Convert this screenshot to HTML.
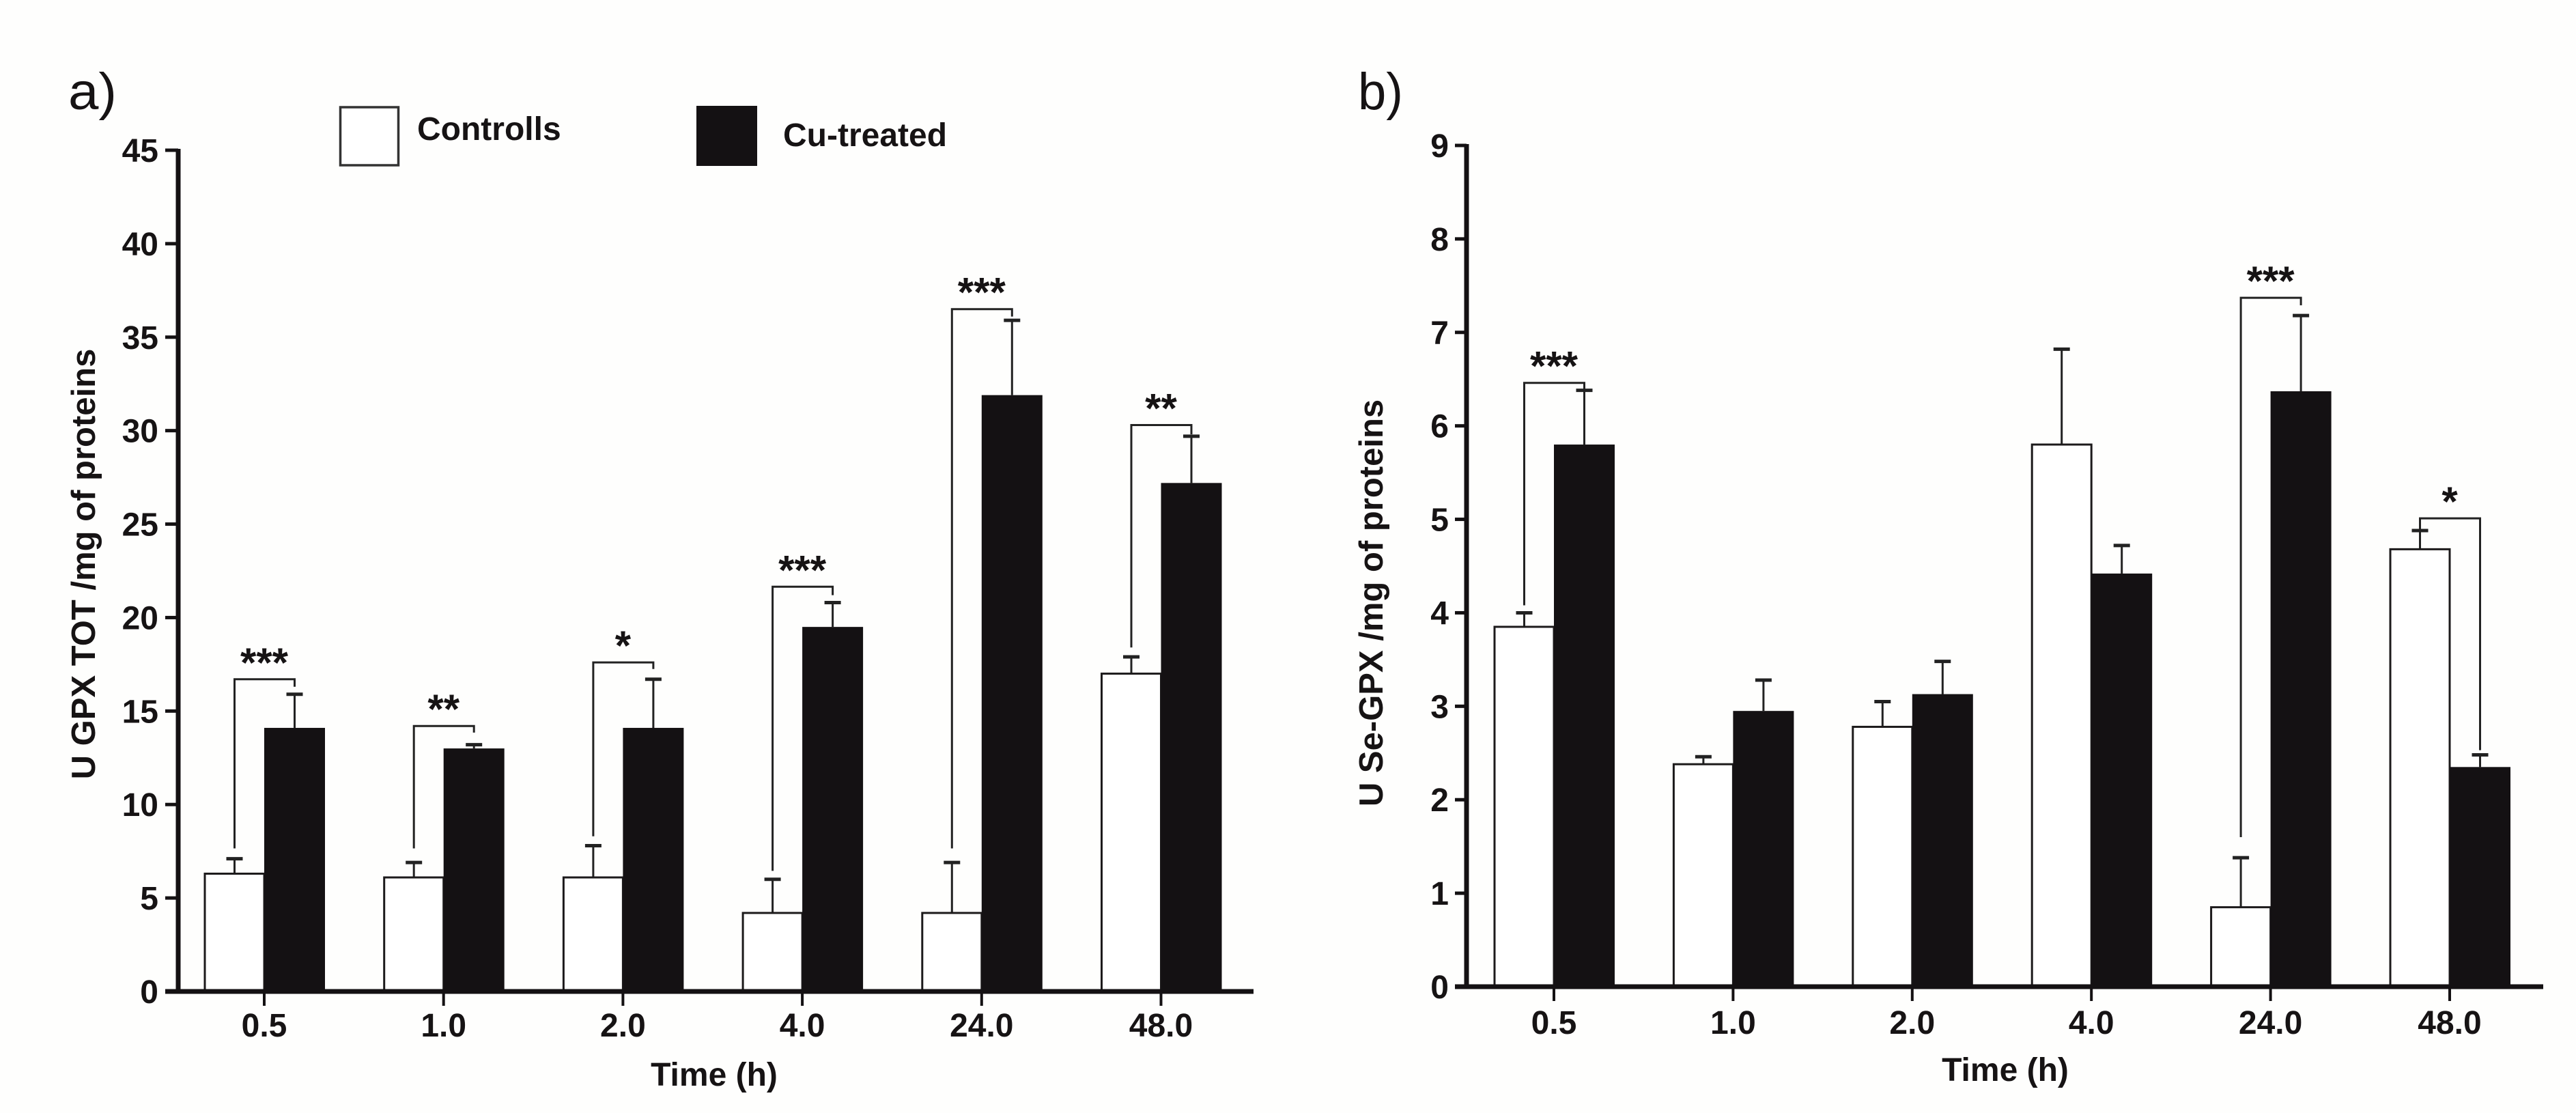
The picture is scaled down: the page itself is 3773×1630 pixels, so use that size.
<!DOCTYPE html>
<html lang="en">
<head>
<meta charset="utf-8">
<title>GPX activity charts</title>
<style>
html,body{margin:0;padding:0;background:#fefefd;}
svg{display:block;}
text{font-family:"Liberation Sans",sans-serif;fill:#161314;}
.b{font-weight:bold;font-size:48px;}
.panel{font-size:76px;font-weight:normal;}
</style>
</head>
<body>
<svg id="root" xmlns="http://www.w3.org/2000/svg" width="3773" height="1630" viewBox="0 0 3773 1630">
  <rect x="0" y="0" width="3773" height="1630" fill="#fefefd"/>
  <g>
    <rect x="498.5" y="157" width="85" height="85" fill="#fff" stroke="#333" stroke-width="3.5"/>
    <text class="b" x="611" y="205">Controlls</text>
    <rect x="1020" y="155" width="89" height="88" fill="#141113"/>
    <text class="b" x="1147" y="214">Cu-treated</text>
  </g>
</svg>
<script>
// shared categories
const categories = ["0.5", "1.0", "2.0", "4.0", "24.0", "48.0"];

// panel a data
const aTicks = [0, 5, 10, 15, 20, 25, 30, 35, 40, 45];
const aControl = [6.3, 6.1, 6.1, 4.2, 4.2, 17.0];
const aControlUpper = [7.1, 6.9, 7.8, 6.0, 6.9, 17.9];
const aTreated = [14.1, 13.0, 14.1, 19.5, 31.9, 27.2];
const aTreatedUpper = [15.9, 13.2, 16.7, 20.8, 35.9, 29.7];
const aStars = ["***", "**", "*", "***", "***", "**"];
const aBracketTop = [16.7, 14.2, 17.6, 21.65, 36.5, 30.3];
const aBracketLeftEnd = [7.65, 7.65, 8.3, 6.45, 7.65, 18.4];
const aBracketRightEnd = [16.3, 13.85, 17.25, 21.2, 36.1, 29.8];

// panel b data
const bTicks = [0, 1, 2, 3, 4, 5, 6, 7, 8, 9];
const bControl = [3.85, 2.38, 2.78, 5.8, 0.85, 4.68];
const bControlUpper = [4.0, 2.46, 3.05, 6.82, 1.38, 4.88];
const bTreated = [5.8, 2.95, 3.13, 4.42, 6.37, 2.35];
const bTreatedUpper = [6.38, 3.28, 3.48, 4.72, 7.18, 2.48];
const bStars = ["***", "", "", "", "***", "*"];
const bBracketTop = [6.46, null, null, null, 7.37, 5.01];
const bBracketLeftEnd = [4.08, null, null, null, 1.6, 4.86];
const bBracketRightEnd = [6.39, null, null, null, 7.29, 2.53];

const NS = "http://www.w3.org/2000/svg";
const root = document.getElementById("root");

function make(parent, tag, attrs, txt) {
  const el = document.createElementNS(NS, tag);
  for (const k in attrs) el.setAttribute(k, attrs[k]);
  if (txt !== undefined) el.textContent = txt;
  parent.appendChild(el);
  return el;
}

function drawPanel(p) {
  const g = make(root, "g", {});
  
  

  const yScale = v => p.y0 - (v / p.yMax) * (p.y0 - p.yTop);
  const xScale = i => p.x0 + i * p.step;
  const barW = p.barW;
  const INK = "#141113";

  // panel label
  const lab = make(g, "text", {x: p.labelX, y: 160, class: "panel", "textLength": p.labelW, "lengthAdjust": "spacingAndGlyphs"}, p.id + ")");
  
  

  categories.forEach((cat, i) => {
    const cx = xScale(i);
    const ctlX = cx - barW / 2;
    const trtX = cx + barW / 2 + 1;

    // control error bar stem and cap
    const ce = make(g, "path", {
      d: `M${ctlX} ${yScale(p.control[i])}V${yScale(p.controlUpper[i])}`,
      fill: "none", stroke: "#222", "stroke-width": 3
    });
    
    
    const cc = make(g, "path", {
      d: `M${ctlX - 12} ${yScale(p.controlUpper[i])}H${ctlX + 12}`,
      fill: "none", stroke: "#222", "stroke-width": 5
    });
    
    

    // treated error bar stem and cap
    const te = make(g, "path", {
      d: `M${trtX} ${yScale(p.treated[i])}V${yScale(p.treatedUpper[i])}`,
      fill: "none", stroke: "#222", "stroke-width": 3
    });
    
    
    const tc = make(g, "path", {
      d: `M${trtX - 12} ${yScale(p.treatedUpper[i])}H${trtX + 12}`,
      fill: "none", stroke: "#222", "stroke-width": 5
    });
    
    

    // control bar
    const cb = make(g, "rect", {
      x: cx - barW, y: yScale(p.control[i]), width: barW, height: p.y0 - yScale(p.control[i]),
      fill: "#fff", stroke: "#1c1a1b", "stroke-width": 3
    });
    
    

    // treated bar
    const tb = make(g, "rect", {
      x: cx, y: yScale(p.treated[i]), width: barW + 2, height: p.y0 - yScale(p.treated[i]),
      fill: INK
    });
    
    

    // x tick
    const tk = make(g, "rect", {x: cx - 2, y: p.y0, width: 4, height: 21, fill: INK});
    
    

    // x tick label
    const tl = make(g, "text", {x: cx, y: p.xLabelY, class: "b", "text-anchor": "middle"}, cat);
    
    

    // significance bracket
    if (p.bracketTop[i] !== null) {
      const br = make(g, "path", {
        d: `M${ctlX} ${yScale(p.bracketLeftEnd[i])}V${yScale(p.bracketTop[i])}H${trtX}V${yScale(p.bracketRightEnd[i])}`,
        fill: "none", stroke: "#222", "stroke-width": 3
      });
      
      

      const st = make(g, "text", {
        x: cx, y: yScale(p.bracketTop[i]) - 4, "text-anchor": "middle",
        "font-weight": "bold", "font-size": 60
      }, p.stars[i]);
      
      
    }
  });

  // y axis line
  const ya = make(g, "rect", {x: p.axisX - 3.5, y: p.yTop - 2, width: 7, height: p.y0 - p.yTop + 4, fill: INK});
  
  

  // x axis line
  const xa = make(g, "rect", {x: p.xAxisStart, y: p.y0 - 3.5, width: p.xAxisEnd - p.xAxisStart, height: 7, fill: INK});
  
  

  p.ticks.forEach(t => {
    const y = yScale(t);
    const tk = make(g, "rect", {x: p.xAxisStart, y: y - 2.5, width: p.axisX - p.xAxisStart, height: 5, fill: INK});
    
    
    const tl = make(g, "text", {x: p.yLabelX, y: y + 17, class: "b", "text-anchor": "end"}, String(t));
    
    
  });

  // axis titles
  const xt = make(g, "text", {x: p.xTitleX, y: p.xTitleY, class: "b", "text-anchor": "middle"}, "Time (h)");
  
  

  const yt = make(g, "text", {
    x: 0, y: 0, class: "b", "text-anchor": "middle", "font-size": 49, style: "font-size:49px",
    transform: `translate(${p.yTitleX} ${p.yTitleY}) rotate(-90)`
  }, p.yTitle);
  
  
}

drawPanel({
  id: "a", yTitle: "U GPX TOT /mg of proteins",
  ticks: aTicks, yMax: 45, control: aControl, controlUpper: aControlUpper,
  treated: aTreated, treatedUpper: aTreatedUpper, stars: aStars,
  bracketTop: aBracketTop, bracketLeftEnd: aBracketLeftEnd, bracketRightEnd: aBracketRightEnd,
  y0: 1452, yTop: 220, x0: 387, step: 262.7, barW: 87,
  axisX: 261, xAxisStart: 242, xAxisEnd: 1836,
  labelX: 100, labelW: 71, xLabelY: 1518, yLabelX: 232,
  xTitleX: 1046, xTitleY: 1590, yTitleX: 139, yTitleY: 826
});

drawPanel({
  id: "b", yTitle: "U Se-GPX /mg of proteins",
  ticks: bTicks, yMax: 9, control: bControl, controlUpper: bControlUpper,
  treated: bTreated, treatedUpper: bTreatedUpper, stars: bStars,
  bracketTop: bBracketTop, bracketLeftEnd: bBracketLeftEnd, bracketRightEnd: bBracketRightEnd,
  y0: 1445, yTop: 213, x0: 2276, step: 262.4, barW: 87,
  axisX: 2148, xAxisStart: 2131, xAxisEnd: 3725,
  labelX: 1989, labelW: 66, xLabelY: 1514, yLabelX: 2122,
  xTitleX: 2937, xTitleY: 1583, yTitleX: 2025, yTitleY: 883
});
</script>
</body>
</html>
